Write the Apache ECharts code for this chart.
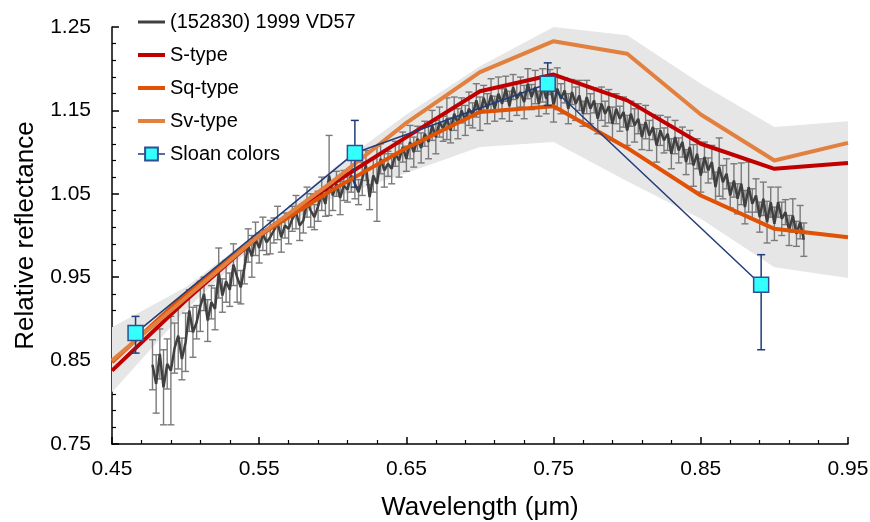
<!DOCTYPE html>
<html><head><meta charset="utf-8">
<script src="https://cdn.jsdelivr.net/npm/echarts@6/dist/echarts.min.js"></script>
<style>html,body{margin:0;padding:0;background:#fff}#c{width:870px;height:522px}</style>
</head><body><div id="c"></div>
<script>
// ---- data ----
const xMin = 0.45, xMax = 0.95, xStep = 0.1;
const yMin = 0.75, yMax = 1.25, yStep = 0.1;

const stdWave = [0.45,0.50,0.55,0.60,0.65,0.70,0.75,0.80,0.85,0.90,0.95];
const sType  = [0.838,0.922,1.000,1.062,1.118,1.173,1.193,1.162,1.110,1.080,1.087];
const sqType = [0.848,0.930,1.000,1.055,1.105,1.148,1.155,1.105,1.048,1.008,0.998];
const svType = [0.850,0.925,1.000,1.065,1.135,1.196,1.233,1.218,1.145,1.090,1.111];
const bandUpper = [0.890,0.938,1.005,1.080,1.145,1.203,1.250,1.240,1.182,1.130,1.137];
const bandLower = [0.812,0.910,0.995,1.045,1.075,1.106,1.112,1.065,1.020,0.962,0.949];

const sloanWave = [0.466,0.615,0.746,0.891];
const sloanVal  = [0.883,1.099,1.182,0.941];
const sloanErrUp   = [0.020,0.039,0.025,0.036];
const sloanErrDown = [0.024,0.041,0.026,0.078];

const specWave = [0.4775,
0.48,0.4825,0.485,0.4875, 0.49,0.4925,0.495,0.4975, 0.50,0.5025,0.505,0.5075, 0.51,0.5125,0.515,0.5175,
0.52,0.5225,0.525,0.5275, 0.53,0.5325,0.535,0.5375, 0.54,0.5425,0.545,0.5475, 0.55,0.5525,0.555,0.5575,
0.56,0.5625,0.565,0.5675, 0.57,0.5725,0.575,0.5775, 0.58,0.5825,0.585,0.5875, 0.59,0.5925,0.595,0.5975,
0.60,0.6025,0.605,0.6075, 0.61,0.6125,0.615,0.6175, 0.62,0.6225,0.625,0.6275, 0.63,0.6325,0.635,0.6375,
0.64,0.6425,0.645,0.6475, 0.65,0.6525,0.655,0.6575, 0.66,0.6625,0.665,0.6675, 0.67,0.6725,0.675,0.6775,
0.68,0.6825,0.685,0.6875, 0.69,0.6925,0.695,0.6975, 0.70,0.7025,0.705,0.7075, 0.71,0.7125,0.715,0.7175,
0.72,0.7225,0.725,0.7275, 0.73,0.7325,0.735,0.7375, 0.74,0.7425,0.745,0.7475, 0.75,0.7525,0.755,0.7575,
0.76,0.7625,0.765,0.7675, 0.77,0.7725,0.775,0.7775, 0.78,0.7825,0.785,0.7875, 0.79,0.7925,0.795,0.7975,
0.80,0.8025,0.805,0.8075, 0.81,0.8125,0.815,0.8175, 0.82,0.8225,0.825,0.8275, 0.83,0.8325,0.835,0.8375,
0.84,0.8425,0.845,0.8475, 0.85,0.8525,0.855,0.8575, 0.86,0.8625,0.865,0.8675, 0.87,0.8725,0.875,0.8775,
0.88,0.8825,0.885,0.8875, 0.89,0.8925,0.895,0.8975, 0.90,0.9025,0.905,0.9075, 0.91,0.9125,0.915,0.9175,
0.92];

const specVal = [0.845,
0.822,0.858,0.818,0.846, 0.838,0.865,0.880,0.852, 0.872,0.910,0.884,0.896, 0.915,0.930,0.898,0.920,
0.912,0.955,0.928,0.945, 0.935,0.965,0.950,0.938, 0.962,0.988,0.975,0.996, 0.985,1.002,0.992,0.998,
1.006,1.015,0.998,1.012, 1.008,1.020,1.028,1.012, 1.018,1.040,1.030,1.022, 1.035,1.050,1.038,1.072,
1.048,1.062,1.045,1.060, 1.055,1.072,1.062,1.052, 1.068,1.084,1.046,1.072, 1.062,1.092,1.078,1.086,
1.080,1.098,1.090,1.106, 1.092,1.112,1.100,1.116, 1.105,1.122,1.112,1.132, 1.118,1.136,1.128,1.140,
1.126,1.146,1.134,1.150, 1.138,1.152,1.144,1.162, 1.146,1.165,1.152,1.168, 1.152,1.170,1.158,1.176,
1.155,1.178,1.164,1.172, 1.160,1.182,1.166,1.178, 1.158,1.180,1.164,1.184, 1.156,1.176,1.164,1.174,
1.152,1.172,1.158,1.168, 1.146,1.166,1.152,1.162, 1.140,1.158,1.146,1.155, 1.134,1.152,1.140,1.148,
1.126,1.146,1.132,1.140, 1.118,1.136,1.120,1.130, 1.108,1.126,1.114,1.122, 1.098,1.118,1.102,1.112,
1.088,1.106,1.084,1.098, 1.072,1.094,1.078,1.088, 1.058,1.082,1.064,1.074, 1.048,1.066,1.044,1.062,
1.034,1.058,1.038,1.048, 1.022,1.044,1.016,1.040, 1.014,1.040,1.020,1.028, 1.006,1.024,1.002,1.016,
0.995];

const specErr = [0.030,
0.035,0.030,0.045,0.030, 0.065,0.030,0.040,0.025, 0.035,0.025,0.030,0.020, 0.030,0.020,0.025,0.020,
0.025,0.030,0.020,0.025, 0.020,0.025,0.030,0.020, 0.020,0.020,0.025,0.020, 0.018,0.020,0.015,0.020,
0.015,0.020,0.018,0.015, 0.018,0.015,0.020,0.018, 0.015,0.018,0.020,0.015, 0.018,0.020,0.015,0.048,
0.018,0.015,0.020,0.018, 0.015,0.020,0.018,0.015, 0.020,0.018,0.015,0.020, 0.045,0.018,0.020,0.015,
0.018,0.015,0.020,0.018, 0.015,0.020,0.018,0.015, 0.018,0.015,0.020,0.018, 0.020,0.018,0.015,0.025,
0.015,0.020,0.018,0.015, 0.018,0.020,0.015,0.020, 0.020,0.015,0.018,0.020, 0.015,0.020,0.018,0.015,
0.018,0.015,0.020,0.018, 0.020,0.018,0.015,0.020, 0.015,0.020,0.018,0.015, 0.020,0.025,0.018,0.015,
0.018,0.015,0.020,0.018, 0.015,0.020,0.018,0.015, 0.018,0.020,0.015,0.020, 0.020,0.018,0.015,0.018,
0.018,0.015,0.020,0.018, 0.015,0.020,0.018,0.015, 0.020,0.018,0.015,0.020, 0.018,0.020,0.015,0.018,
0.015,0.020,0.025,0.018, 0.020,0.018,0.015,0.020, 0.018,0.035,0.020,0.018, 0.015,0.020,0.018,0.025,
0.020,0.030,0.018,0.020, 0.018,0.020,0.025,0.018, 0.020,0.018,0.020,0.015, 0.018,0.020,0.015,0.020,
0.020];

const names = ['(152830) 1999 VD57','S-type','Sq-type','Sv-type','Sloan colors'];

// ---- build ----
const FONT = 'Liberation Sans';
const pairs = (xs, ys) => xs.map((x,i)=>[x, ys[i]]);

function errRender(color, lw, capW){
  return function(params, api){
    const x = api.value(0), lo = api.value(1), hi = api.value(2);
    const a = api.coord([x, lo]), b = api.coord([x, hi]);
    const st = {stroke: color, lineWidth: lw};
    return {type:'group', children:[
      {type:'line', shape:{x1:a[0],y1:a[1],x2:b[0],y2:b[1]}, style:st},
      {type:'line', shape:{x1:a[0]-capW/2,y1:a[1],x2:a[0]+capW/2,y2:a[1]}, style:st},
      {type:'line', shape:{x1:b[0]-capW/2,y1:b[1],x2:b[0]+capW/2,y2:b[1]}, style:st}
    ]};
  };
}

const hideSym = {color: 'rgba(0,0,0,0)', borderWidth: 0};

const chart = echarts.init(document.getElementById('c'), null, {renderer:'canvas'});
chart.setOption({
  animation: false,
  backgroundColor: '#fff',
  grid: {left: 112, right: 22, top: 27, bottom: 78, containLabel: false, outerBoundsMode: 'none'},
  legend: {
    data: [
      {name: names[0], itemStyle: hideSym, lineStyle: {width: 3}},
      {name: names[1], itemStyle: hideSym, lineStyle: {width: 4}},
      {name: names[2], itemStyle: hideSym, lineStyle: {width: 4}},
      {name: names[3], itemStyle: hideSym, lineStyle: {width: 4}},
      {name: names[4], lineStyle: {width: 1.5}}
    ],
    orient: 'vertical', left: 131, top: 7, padding: 5,
    itemWidth: 27, itemHeight: 16, itemGap: 13,
    textStyle: {fontFamily: FONT, fontSize: 20, color: '#000'}
  },
  xAxis: {
    type: 'value', min: xMin, max: xMax, interval: xStep,
    name: 'Wavelength (μm)', nameLocation: 'middle', nameGap: 51,
    nameTextStyle: {fontFamily: FONT, fontSize: 26, color: '#000'},
    axisLine: {lineStyle: {color: '#000', width: 1.5}},
    axisTick: {inside: true, length: 7, lineStyle: {color: '#000', width: 1.5}},
    minorTick: {show: true, splitNumber: 5, length: 4, lineStyle: {color: '#000', width: 1.2}},
    splitLine: {show: false},
    axisLabel: {fontFamily: FONT, fontSize: 21, color: '#000', margin: 15, formatter: v => v.toFixed(2)}
  },
  yAxis: {
    type: 'value', min: yMin, max: yMax, interval: yStep,
    name: 'Relative reflectance', nameLocation: 'middle', nameGap: 73,
    nameTextStyle: {fontFamily: FONT, fontSize: 26, color: '#000'},
    axisLine: {show: true, lineStyle: {color: '#000', width: 1.5}},
    axisTick: {show: true, inside: true, length: 7, lineStyle: {color: '#000', width: 1.5}},
    minorTick: {show: true, splitNumber: 5, length: 4, lineStyle: {color: '#000', width: 1.2}},
    splitLine: {show: false},
    axisLabel: {fontFamily: FONT, fontSize: 21, color: '#000', margin: 21, formatter: v => v.toFixed(2)}
  },
  series: [
    {
      type: 'custom', name: 'band', silent: true, z: 1,
      data: [[0.7, 1.1]],
      encode: {x: 0, y: 1},
      renderItem: function(params, api){
        const pts = [];
        stdWave.forEach((x,i)=>pts.push(api.coord([x, bandUpper[i]])));
        for (let i = stdWave.length-1; i >= 0; i--) pts.push(api.coord([stdWave[i], bandLower[i]]));
        return {type:'polygon', shape:{points: pts}, style:{fill:'#E6E6E6'}};
      }
    },
    {
      type: 'custom', name: 'specErr', silent: true, z: 2,
      data: specWave.map((x,i)=>[x, specVal[i]-specErr[i], specVal[i]+specErr[i]]),
      encode: {x: 0, y: [1,2]},
      renderItem: errRender('#7a7a7a', 1.4, 7)
    },
    {
      type: 'line', name: names[0], z: 3, symbol: 'none',
      data: pairs(specWave, specVal),
      itemStyle: {color: '#404040'},
      lineStyle: {color: '#404040', width: 2.5}
    },
    {
      type: 'line', name: names[1], z: 4, symbol: 'none',
      data: pairs(stdWave, sType),
      itemStyle: {color: '#C00000'},
      lineStyle: {color: '#C00000', width: 4}
    },
    {
      type: 'line', name: names[2], z: 4, symbol: 'none',
      data: pairs(stdWave, sqType),
      itemStyle: {color: '#E05206'},
      lineStyle: {color: '#E05206', width: 4}
    },
    {
      type: 'line', name: names[3], z: 4, symbol: 'none',
      data: pairs(stdWave, svType),
      itemStyle: {color: '#E2803F'},
      lineStyle: {color: '#E2803F', width: 4}
    },
    {
      type: 'custom', name: 'sloanErr', silent: true, z: 5,
      data: sloanWave.map((x,i)=>[x, sloanVal[i]-sloanErrDown[i], sloanVal[i]+sloanErrUp[i]]),
      encode: {x: 0, y: [1,2]},
      renderItem: errRender('#1F3D7A', 1.5, 8)
    },
    {
      type: 'line', name: names[4], z: 6, symbol: 'rect', symbolSize: 15,
      data: pairs(sloanWave, sloanVal),
      itemStyle: {color: '#33FFFF', borderColor: '#2F4F8F', borderWidth: 1.5},
      lineStyle: {color: '#1F3D7A', width: 1.5}
    }
  ]
});
</script>
</body></html>
